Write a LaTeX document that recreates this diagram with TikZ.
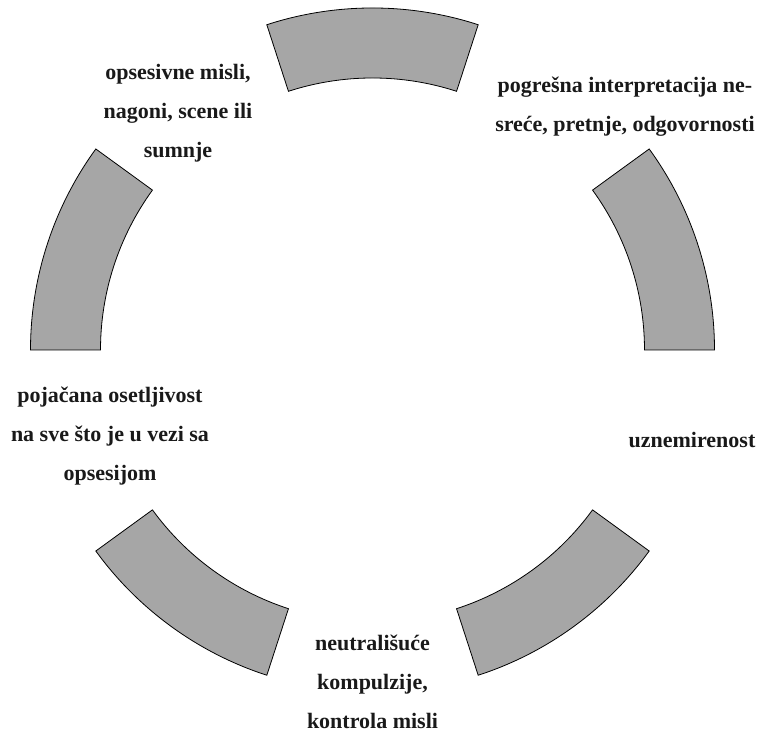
\documentclass[tikz,border=0pt]{standalone}
\usepackage{fontspec}
\setmainfont{Liberation Serif}
\usepackage{xcolor}
\usepackage{tikz}
\definecolor{segfill}{RGB}{166,166,166}

\begin{document}
\begin{tikzpicture}[x=1pt, y=1pt,
		seg/.style={draw=black, line width=0.8pt, fill=segfill, line join=miter},
		lbl/.style={font=\fontsize{22}{39}\selectfont\bfseries, align=center, text=black!90}]
				\useasboundingbox (0,0) rectangle (761,743);
				\coordinate (c) at (372.5,393);
				\draw[seg] ([shift={(72:342pt)}]c) arc[start angle=72, end angle=108, radius=342pt] -- ([shift={(108:272pt)}]c) arc[start angle=108, end angle=72, radius=272pt] -- cycle;
				\draw[seg] ([shift={(0:342pt)}]c) arc[start angle=0, end angle=36, radius=342pt] -- ([shift={(36:272pt)}]c) arc[start angle=36, end angle=0, radius=272pt] -- cycle;
				\draw[seg] ([shift={(-72:342pt)}]c) arc[start angle=-72, end angle=-36, radius=342pt] -- ([shift={(-36:272pt)}]c) arc[start angle=-36, end angle=-72, radius=272pt] -- cycle;
				\draw[seg] ([shift={(-144:342pt)}]c) arc[start angle=-144, end angle=-108, radius=342pt] -- ([shift={(-108:272pt)}]c) arc[start angle=-108, end angle=-144, radius=272pt] -- cycle;
				\draw[seg] ([shift={(144:342pt)}]c) arc[start angle=144, end angle=180, radius=342pt] -- ([shift={(180:272pt)}]c) arc[start angle=180, end angle=144, radius=272pt] -- cycle;
				\node[lbl] (misli) at (178,630) {opsesivne misli,\\nagoni, scene ili\\sumnje};
				\node[lbl] (tumacenje) at (625,636) {pogrešna interpretacija ne-\\sreće, pretnje, odgovornosti};
				\node[lbl] (nemir) at (692,303) {uznemirenost};
				\node[lbl] (kompulzije) at (372.5,61) {neutrališuće\\kompulzije,\\kontrola misli};
				\node[lbl] (osetljivost) at (110,307) {pojačana osetljivost\\na sve što je u vezi sa\\opsesijom};
\end{tikzpicture}
\end{document}
